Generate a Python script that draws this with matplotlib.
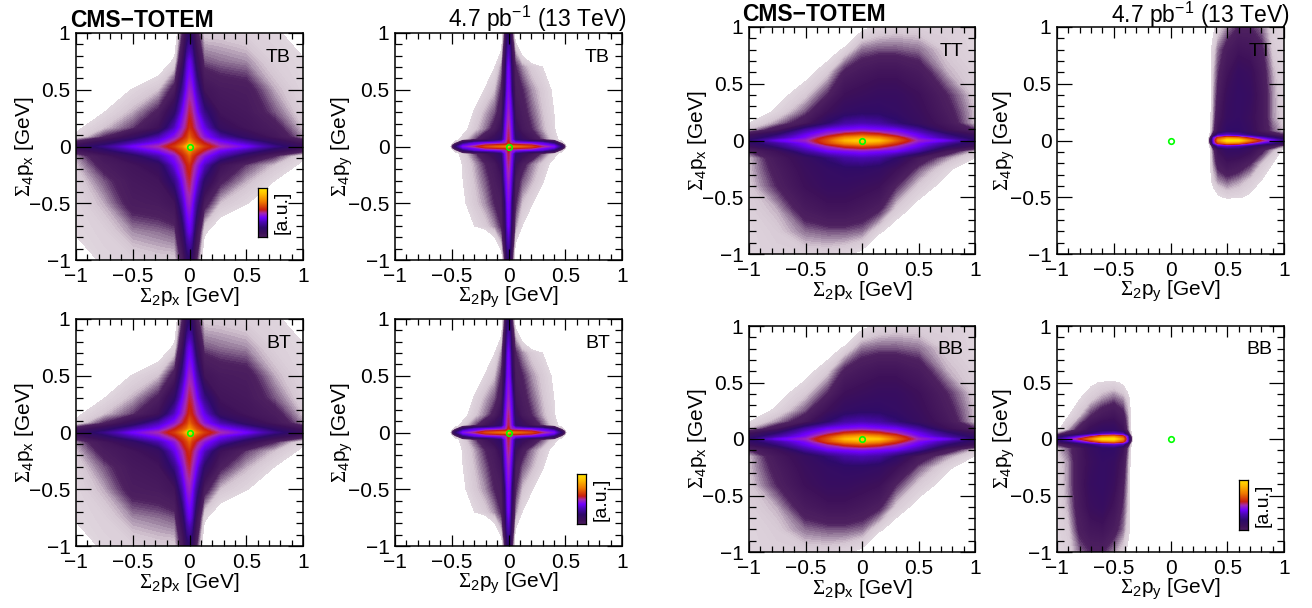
#!/usr/bin/env python3
"""CMS-TOTEM momentum balance maps, 8 panels."""
import numpy as np
import matplotlib
matplotlib.use('Agg')
import matplotlib.pyplot as plt
from matplotlib.colors import LinearSegmentedColormap
from matplotlib.ticker import MultipleLocator

plt.rcParams['font.family'] = ['Liberation Sans', 'DejaVu Sans']
plt.rcParams['mathtext.fontset'] = 'custom'
plt.rcParams['mathtext.rm'] = 'Liberation Serif'
plt.rcParams['mathtext.sf'] = 'Liberation Sans'

# levels read by eye, below 2 = empty, 100 = top of colour scale. rows go top -> bottom
# the cross maps are given down to y = 0, the lower half looks like the upper one turned by 180 deg
PX_X = [-1, -.75, -.5, -.27, -.13, -.06, -.02, 0, .02, .06, .13, .27, .5, .75, 1]
PX_Y = [1, .75, .5, .3, .16, .08, .035, 0]
CROSS_PX = [
    [-20, -20, -20, -15, -3, 12, 24, 28, 26, 14, 5, 5, 4, 3, -1],
    [-20, -20, -10, -2, 3, 20, 42, 46, 42, 24, 10, 9, 8, 4, 2.5],
    [-15, -5, 2.5, 6, 14, 36, 50, 54, 52, 40, 18, 15, 14, 7, 3],
    [-5, 2, 7, 13, 28, 48, 56, 60, 58, 50, 34, 18, 16, 10, 4],
    [1, 6, 11, 20, 42, 54, 60, 64, 62, 56, 46, 24, 18, 14, 6],
    [3, 12, 24, 40, 52, 60, 66, 72, 68, 62, 52, 40, 26, 17, 8],
    [14, 24, 38, 48, 60, 68, 74, 80, 76, 68, 60, 50, 40, 26, 16],
    [22, 34, 48, 56, 66, 76, 90, 96, 90, 76, 66, 56, 48, 34, 22],
]

PY_X = [-.52, -.47, -.4, -.3, -.2, -.12, -.06, -.03, -.012, 0, .012, .03, .06, .12, .2, .3, .4, .47, .52]
PY_Y = [1, .85, .7, .5, .3, .15, .06, .03, .012, 0]
CROSS_PY = [
    [-10, -10, -10, -10, -10, -10, -2, 12, 26, 30, 26, 12, -2, -10, -10, -10, -10, -10, -10],
    [-10, -10, -10, -10, -10, -4, 2, 18, 34, 40, 36, 18, 6, -1, -10, -10, -10, -10, -10],
    [-10, -10, -10, -10, -4, 2, 8, 22, 42, 48, 42, 24, 12, 8, 5, 2, -8, -10, -10],
    [-10, -10, -10, -4, 3, 6, 12, 28, 46, 50, 46, 30, 14, 12, 8, 5, 1, -8, -10],
    [-10, -10, -6, 3, 7, 10, 15, 40, 50, 54, 50, 42, 18, 14, 10, 6, 2, -6, -10],
    [-10, -6, 0, 5, 9, 14, 22, 46, 54, 58, 54, 46, 24, 16, 12, 7, 3, -4, -10],
    [-8, 0, 4, 10, 18, 24, 30, 48, 56, 60, 56, 48, 30, 24, 18, 10, 4, 0, -8],
    [-6, 6, 30, 44, 48, 50, 52, 54, 58, 64, 58, 54, 52, 50, 48, 44, 30, 6, -6],
    [-6, 20, 44, 50, 60, 62, 64, 64, 66, 72, 66, 64, 64, 62, 60, 50, 44, 20, -6],
    [-6, 28, 50, 58, 68, 72, 74, 76, 80, 90, 80, 76, 74, 72, 68, 58, 50, 28, -6],
]

TT_PX_X = [-1, -.75, -.5, -.3, -.15, 0, .15, .3, .5, .75, 1]
TT_PX_Y = [1, .8, .6, .4, .25, .15, .09, .05, .02, 0]
TT_PX = [
    [-20, -20, -20, -15, -6, .5, 3, 4, 4, 4, 3],
    [-20, -15, -8, -1, 3, 9, 10, 10, 9, 5, 3],
    [-15, -8, 0, 5, 13, 16, 18, 18, 15, 7, 4],
    [-6, 0, 5, 12, 20, 22, 24, 24, 20, 12, 5],
    [-1.5, 3, 10, 20, 26, 28, 28, 26, 22, 14, 6],
    [2, 8, 16, 30, 38, 40, 38, 32, 24, 16, 6],
    [6, 16, 38, 48, 50, 52, 50, 48, 38, 20, 12],
    [18, 30, 46, 56, 64, 68, 64, 56, 46, 32, 20],
    [24, 38, 50, 66, 80, 86, 80, 68, 50, 38, 26],
    [30, 46, 54, 70, 88, 95, 90, 72, 54, 46, 30],
]

TT_PY_X = [.33, .36, .38, .42, .5, .6, .7, .8, .9, 1]
TT_PY_Y = [1, .8, .6, .4, .2, .08, .045, .02, 0, -.02, -.045, -.08, -.2, -.35, -.5, -.6]
TT_PY = [
    [-4, -1, 1, 4, 8, 12, 12, 9, 4, 2],
    [-4, 2, 4, 9, 14, 18, 17, 13, 5, 3],
    [-4, 2, 6, 11, 18, 24, 22, 15, 7, 3],
    [-4, 2, 7, 13, 22, 26, 24, 16, 8, 3],
    [-4, 3, 8, 16, 24, 26, 22, 16, 8, 4],
    [-4, 5, 10, 20, 28, 28, 24, 16, 10, 6],
    [-4, 8, 20, 40, 44, 40, 32, 24, 18, 12],
    [-4, 20, 48, 68, 80, 76, 60, 46, 34, 24],
    [-4, 26, 50, 78, 98, 96, 76, 60, 48, 34],
    [-4, 20, 48, 68, 80, 76, 60, 46, 34, 24],
    [-4, 8, 20, 40, 44, 40, 32, 22, 16, 8],
    [-4, 5, 10, 20, 26, 26, 22, 14, 7, 1],
    [-4, 4, 8, 14, 18, 16, 12, 6, 2, -3],
    [-4, 2, 5, 8, 10, 8, 5, 2, -2, -6],
    [-8, -3, -2, 1, 3, 2.5, 1, -3, -8, -8],
    [-10, -10, -10, -10, -10, -10, -10, -10, -10, -10],
]

# colour scale stops
SCALE_POS = [0, 2, 6, 9, 12, 20, 30, 40, 48, 56, 62, 76, 90, 100]
SCALE_COL = ['#e6dde4', '#e2d8e0', '#d4c6d2', '#8d7093', '#4e2160', '#3d1059', '#2e0a6a',
             '#4a08b0', '#7000ff', '#a52ab0', '#c81e10', '#ef7a00', '#ffc000', '#ffe600']
CMAP = LinearSegmentedColormap.from_list('root', [(p / 100, c) for p, c in zip(SCALE_POS, SCALE_COL)], N=512)
LEVELS = np.arange(2, 100.5, 0.5)

W, H = 1312, 608

# box is left/right/top/bottom in pixels
PANELS = [
    (PX_X, PX_Y, CROSS_PX, 'TB', (76, 303, 33, 260), 'x', 1),
    (PY_X, PY_Y, CROSS_PY, 'TB', (395, 622, 33, 260), 'y', 1),
    (PX_X, PX_Y, CROSS_PX, 'BT', (76, 303, 319, 546), 'x', 1),
    (PY_X, PY_Y, CROSS_PY, 'BT', (395, 622, 319, 546), 'y', 1),
    (TT_PX_X, TT_PX_Y, TT_PX, 'TT', (749, 975, 27, 254), 'x', 1),
    (TT_PY_X, TT_PY_Y, TT_PY, 'TT', (1057, 1284, 27, 254), 'y', 0),
    (TT_PX_X, TT_PX_Y, TT_PX, 'BB', (749, 975, 326, 552), 'x', 1),
    (TT_PY_X, TT_PY_Y, TT_PY, 'BB', (1057, 1284, 326, 552), 'y', -1),
]
# left, right, top, bottom of the small colour bars, pixels
COLORBARS = [(258, 267, 188, 237), (577, 586, 474, 524), (1239, 1248, 480, 530)]
BAR_RANGE = [14, 100]
TICKS = [-1, -.5, 0, .5, 1]
TICK_LABELS = ['\u22121', '\u22120.5', '0', '0.5', '1']


def add_box(fig, box):
    left, right, top, bottom = box
    return fig.add_axes([left / W, 1 - bottom / H, (right - left) / W, (bottom - top) / H])


def draw_panel(fig, xs, ys, vals, tag, box, comp, mode):
    ax = add_box(fig, box)
    xs = np.array(xs)
    ys = np.array(ys)
    z = np.array(vals, dtype=float)
    if mode == 1:
        # upper half given, complete it with the 180 deg turned lower half
        flip = z[:-1][::-1, ::-1]
        z = np.vstack([z, flip])
        ys = np.concatenate([ys, -ys[:-1][::-1]])
    elif mode == -1:
        # BB py is the TT py shape turned by 180 deg
        xs, ys = -xs, -ys
    # contourf wants increasing axes
    if xs[0] > xs[-1]:
        xs, z = xs[::-1], z[:, ::-1]
    if ys[0] > ys[-1]:
        ys, z = ys[::-1], z[::-1]
    ax.contourf(xs, ys, z, levels=LEVELS, cmap=CMAP, vmin=0, vmax=100, antialiased=False)
    ax.plot([0], [0], 'o', ms=4, mfc='none', mec='#00ff00', mew=1.2)
    ax.set_xlim(-1, 1)
    ax.set_ylim(-1, 1)
    ax.xaxis.set_minor_locator(MultipleLocator(0.1))
    ax.yaxis.set_minor_locator(MultipleLocator(0.1))
    ax.set_xticks(TICKS)
    ax.set_xticklabels(TICK_LABELS)
    ax.set_yticks(TICKS)
    ax.set_yticklabels(TICK_LABELS)
    ax.tick_params(axis='x', which='major', direction='in', top=True, length=8, width=0.9, labelsize=15, pad=5)
    ax.tick_params(axis='x', which='minor', direction='in', top=True, length=4.5, width=0.9)
    ax.tick_params(axis='y', which='major', direction='in', right=True, length=11, width=0.9, labelsize=15, pad=4)
    ax.tick_params(axis='y', which='minor', direction='in', right=True, length=5, width=0.9)
    for s in ax.spines.values():
        s.set_linewidth(1.1)
    ax.set_xlabel(r'$\Sigma_{\mathsf{2}}\mathsf{p}_{\mathsf{%s}}$ [GeV]' % comp, fontsize=15, labelpad=-1)
    ax.set_ylabel(r'$\Sigma_{\mathsf{4}}\mathsf{p}_{\mathsf{%s}}$ [GeV]' % comp, fontsize=15, labelpad=-5)
    ax.text(0.947, 0.894, tag, transform=ax.transAxes, ha='right', va='center', fontsize=14)
    return ax


def draw_colorbar(fig, box):
    ax = add_box(fig, box)
    grad = np.linspace(BAR_RANGE[0], BAR_RANGE[1], 128)[:, None]
    ax.imshow(grad, origin='lower', aspect='auto', cmap=CMAP, vmin=0, vmax=100)
    ax.set_xticks([])
    ax.set_yticks([])
    for s in ax.spines.values():
        s.set_linewidth(0.9)
    fig.text((box[1] + 15) / W, 1 - (box[2] + box[3]) / 2 / H, '[a.u.]', rotation=90,
             ha='center', va='center', fontsize=14)


def main():
    fig = plt.figure(figsize=(W / 100, H / 100), dpi=100)
    for xs, ys, vals, tag, box, comp, mode in PANELS:
        draw_panel(fig, xs, ys, vals, tag, box, comp, mode)
    for box in COLORBARS:
        draw_colorbar(fig, box)
    for x, y in [(70, 27), (742, 21)]:
        fig.text(x / W, 1 - y / H, 'CMS\u2212TOTEM', fontweight='bold', fontsize=16.5, ha='left', va='baseline')
    for x, y in [(627, 27), (1290, 23)]:
        fig.text(x / W, 1 - y / H, r'4.7 pb$^{\mathsf{-1}}$ (13 TeV)', fontsize=16.5, ha='right', va='baseline')
    fig.savefig('out.png', dpi=100)
    plt.close(fig)


if __name__ == '__main__':
    main()
